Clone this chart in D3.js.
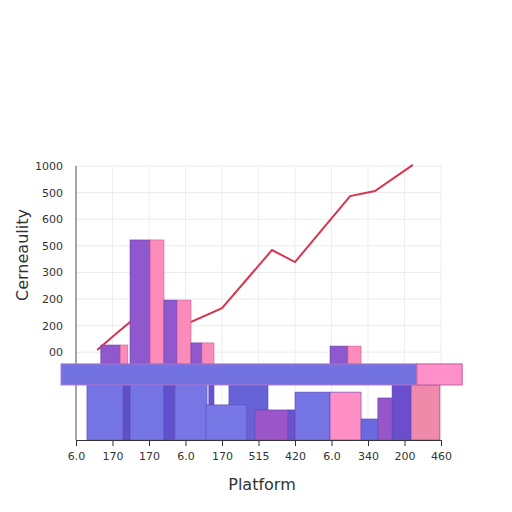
<!DOCTYPE html><html><head><meta charset="utf-8">
<script src="https://cdn.jsdelivr.net/npm/d3@7"></script>
<style>body{margin:0;background:#fff}</style></head><body><svg id="c" width="512" height="512"></svg>
<script>
const xTickLabels=["6.0","170","170","6.0","170","515","420","6.0","340","200","460"];
const yTickLabels=["00","200","200","300","500","600","500","1000"];
const upperStart=[0.68,1.48,2.41,3.15,6.96];
const upperSplit=[1.21,2.03,2.77,3.45,7.45];
const upperEnd=[1.42,2.41,3.15,3.78,7.81];
const upperVals=[0.27,4.22,1.96,0.35,0.23];
const bandVals=[-0.44,-1.23];
const bandX=[-0.41,9.34,10.58];
const lowStart=[0.3,1.29,1.48,2.41,2.71,3.64,4.19,3.56,4.9,5.81,6.0,6.96,7.81,8.27,8.66,9.18];
const lowEnd=[1.29,1.48,2.41,2.71,3.59,3.78,5.26,4.68,5.81,6.0,6.96,7.81,8.77,9.18,9.48,9.97];
const lowTop=[-1.23,-1.23,-1.23,-1.23,-1.23,-1.23,-1.23,-1.98,-2.17,-2.17,-1.5,-1.5,-2.51,-1.72,-1.23,-1.23];
const lowColor=["#7474e4","#5e4ec8","#7474e4","#6050cc","#7676e4","#6a4fd0","#6662d8","#7777e6","#9b55c9","#6b50cf","#7474e4","#ff8fc4","#6a6ae0","#9656c8","#6a4ecc","#f08aaa"];
const lineX=[0.58,1.12,1.62,3.15,4.0,5.37,6.0,7.51,8.19,9.23];
const lineY=[0.08,0.72,1.29,1.14,1.66,3.84,3.39,5.87,6.06,7.04];
const svg=d3.select("#c");
const x=d3.scaleLinear().domain([0,10]).range([76,441]);
const y=d3.scaleLinear().domain([-3.3,7]).range([440,166]);
const g=svg.append("g");
// grid
g.selectAll(".hg").data(d3.range(8)).join("line").attr("x1",76).attr("x2",441).attr("y1",d=>y(d)).attr("y2",d=>y(d)).attr("stroke","#ebebf0");
g.selectAll(".vg").data(d3.range(11)).join("line").attr("x1",d=>x(d)).attr("x2",d=>x(d)).attr("y1",166).attr("y2",440).attr("stroke","#eeeef3");
g.append("line").attr("x1",76).attr("x2",76).attr("y1",166).attr("y2",440).attr("stroke","#555");
g.selectAll(".yl").data(yTickLabels).join("text").attr("x",63).attr("y",(d,i)=>y(i)+4).attr("text-anchor","end").attr("font-family","DejaVu Sans").attr("font-size",11).attr("fill","#333").text(d=>d);
// line (behind bars)
g.append("path").datum(lineX.map((v,i)=>[v,lineY[i]])).attr("fill","none").attr("stroke","#d8364e").attr("stroke-width",2)
 .attr("d",d3.line().x(d=>x(d[0])).y(d=>y(d[1])));
// upper bars
upperVals.forEach((v,i)=>{
 g.append("rect").attr("x",x(upperStart[i])).attr("width",x(upperSplit[i])-x(upperStart[i])).attr("y",y(v)).attr("height",y(bandVals[0])-y(v)).attr("fill","#8f58cc").attr("stroke","#6b3fb0").attr("stroke-width",0.6);
 g.append("rect").attr("x",x(upperSplit[i])).attr("width",x(upperEnd[i])-x(upperSplit[i])).attr("y",y(v)).attr("height",y(bandVals[0])-y(v)).attr("fill","#fb8cba").attr("stroke","#c95d8e").attr("stroke-width",0.6);
});
// lower bars
lowTop.forEach((v,i)=>{
 g.append("rect").attr("x",x(lowStart[i])).attr("width",x(lowEnd[i])-x(lowStart[i])).attr("y",y(v)).attr("height",y(-3.3)-y(v)).attr("fill",lowColor[i]).attr("stroke","#5a48b8").attr("stroke-width",0.6);
});
// band
g.append("rect").attr("x",x(bandX[0])).attr("width",x(bandX[1])-x(bandX[0])).attr("y",y(bandVals[0])).attr("height",y(bandVals[1])-y(bandVals[0])).attr("fill","#7272e0").attr("stroke","#b070d0");
g.append("rect").attr("x",x(bandX[1])).attr("width",x(bandX[2])-x(bandX[1])).attr("y",y(bandVals[0])).attr("height",y(bandVals[1])-y(bandVals[0])).attr("fill","#ff90c8").attr("stroke","#c060a0");
// x axis
const ax=svg.append("g").attr("transform","translate(0,440)").call(d3.axisBottom(x).tickValues(d3.range(11)).tickFormat((d,i)=>xTickLabels[i]).tickSize(6));
ax.selectAll("text").attr("font-family","DejaVu Sans").attr("font-size",11).attr("fill","#333").attr("dy","1em");
ax.selectAll("line,path").attr("stroke","#333");
svg.append("text").attr("x",262).attr("y",490).attr("text-anchor","middle").attr("font-family","DejaVu Sans").attr("font-size",16).attr("fill","#333").text("Platform");
svg.append("text").attr("transform","translate(28,255) rotate(-90)").attr("text-anchor","middle").attr("font-family","DejaVu Sans").attr("font-size",16).attr("fill","#333").text("Cerneaulity");
</script></body></html>
